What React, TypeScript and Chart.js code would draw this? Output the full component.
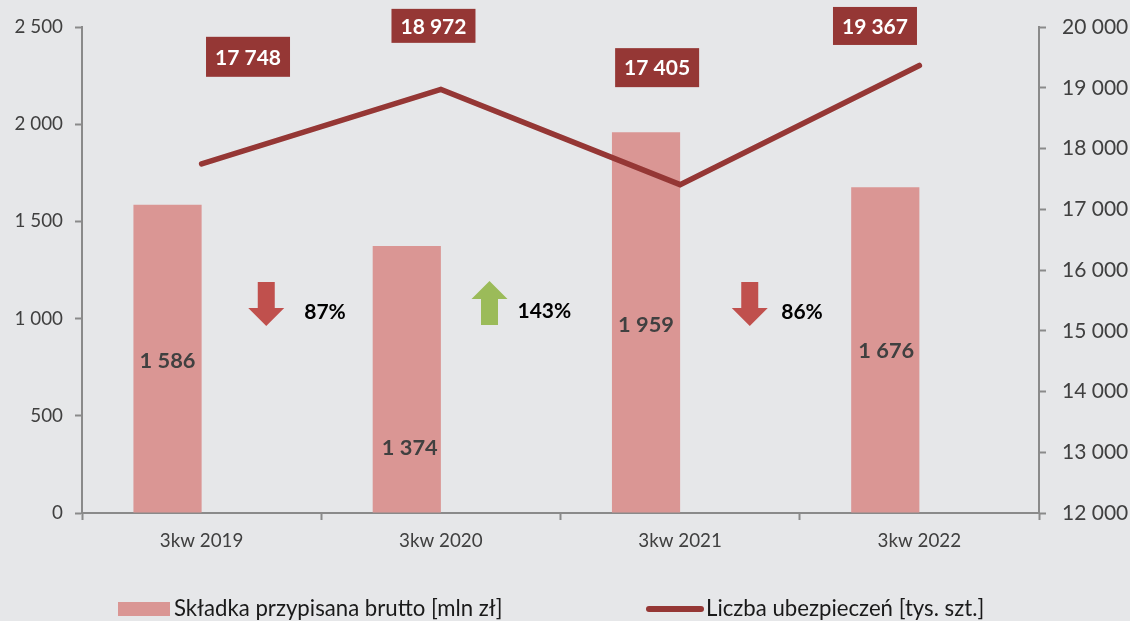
import React, { useEffect, useRef } from "react";
import { Chart, registerables } from "chart.js";

Chart.register(...registerables);

const categories = ["3kw 2019", "3kw 2020", "3kw 2021", "3kw 2022"];
const premiums = [1586, 1374, 1959, 1676];
const policies = [17748, 18972, 17405, 19367];
const emptySeries = [null, null, null, null];
const changeLabels = ["87%", "143%", "86%"];
const changeDirections = ["down", "up", "down"];

const premiumLabel = "Składka przypisana brutto [mln zł]";
const policyLabel = "Liczba ubezpieczeń [tys. szt.]";

const FONT = "Lato, 'Open Sans', sans-serif";
const BG = "#e6e7e9";
const BAR = "#da9694";
const LINE = "#953735";
const AXIS = "#8a8a8a";
const TEXT = "#404040";

const fmt = (v: number) => String(v).replace(/\B(?=(\d{3})+(?!\d))/g, " ");

// offsets of the callouts, relative to the mark they describe
const premiumLabelOffsets = [2, 69, 2, 1];
const premiumLabelShifts = [0, 3, 0, 1];
const policyBoxOffsets = [[46.4, -107], [-7.4, -63.6], [-23, -117], [-44.4, -39.5]];
const policyBoxHeights = [40, 34, 39, 38];
const changeOffsets = [[-55, 0], [-71, -1], [-50, 0]];
const changeTextOffsets = [38, 28, 31.5];

const annotations = {
  id: "annotations",
  afterDatasetsDraw(chart: any) {
    const { ctx } = chart;
    const x = chart.scales.x;
    const y = chart.scales.y;
    const y2 = chart.scales.y2;
    ctx.save();
    ctx.textAlign = "center";
    ctx.textBaseline = "middle";

    // bar values
    const barMeta = chart.getDatasetMeta(1);
    ctx.font = `bold 21.8px ${FONT}`;
    ctx.fillStyle = TEXT;
    premiums.forEach((v, i) => {
      const cy = (y.getPixelForValue(v) + y.getPixelForValue(0)) / 2;
      ctx.fillText(fmt(v), barMeta.data[i].x + premiumLabelShifts[i], cy + premiumLabelOffsets[i]);
    });

    // line value boxes
    policies.forEach((v, i) => {
      const cx = x.getPixelForValue(i) + policyBoxOffsets[i][0];
      const cy = y2.getPixelForValue(v) + policyBoxOffsets[i][1];
      const h = policyBoxHeights[i];
      ctx.fillStyle = LINE;
      ctx.fillRect(cx - 42, cy - h / 2, 84, h);
      ctx.fillStyle = "#ffffff";
      ctx.font = `bold 21px ${FONT}`;
      ctx.fillText(fmt(v), cx, cy + 1);
    });

    // change arrows
    changeLabels.forEach((label, i) => {
      const boundary = (x.getPixelForValue(i) + x.getPixelForValue(i + 1)) / 2;
      const cx = boundary + changeOffsets[i][0];
      const cy = (y.top + y.bottom) / 2 + 34 + changeOffsets[i][1];
      const up = changeDirections[i] === "up";
      const half = 22;
      const head = 18;
      const tip = up ? cy - half : cy + half;
      const tail = up ? cy + half : cy - half;
      const neck = up ? tip + head : tip - head;
      const sw = 8.5;
      const hw = 18;
      ctx.fillStyle = up ? "#9bbb59" : "#c0504d";
      ctx.beginPath();
      ctx.moveTo(cx, tip);
      ctx.lineTo(cx + hw, neck);
      ctx.lineTo(cx + sw, neck);
      ctx.lineTo(cx + sw, tail);
      ctx.lineTo(cx - sw, tail);
      ctx.lineTo(cx - sw, neck);
      ctx.lineTo(cx - hw, neck);
      ctx.closePath();
      ctx.fill();
      ctx.fillStyle = "#000000";
      ctx.font = `bold 21px ${FONT}`;
      ctx.textAlign = "left";
      ctx.fillText(label, cx + changeTextOffsets[i], cy + 8);
      ctx.textAlign = "center";
    });

    // legend
    const ly = 609;
    ctx.textAlign = "left";
    ctx.font = `22.2px ${FONT}`;
    ctx.fillStyle = BAR;
    ctx.fillRect(118, ly - 7, 52, 14);
    ctx.fillStyle = "#1a1a1a";
    ctx.fillText(premiumLabel, 174, ly);
    ctx.strokeStyle = LINE;
    ctx.lineWidth = 6;
    ctx.lineCap = "round";
    ctx.beginPath();
    ctx.moveTo(649, ly);
    ctx.lineTo(701, ly);
    ctx.stroke();
    ctx.fillStyle = "#1a1a1a";
    ctx.fillText(policyLabel, 706, ly);
    ctx.restore();
  },
};

const fitVertical = (width: number) => (s: any) => {
  s.width = width;
  s.paddingTop = 0;
  s.paddingBottom = 0;
};

export default function App() {
  const ref = useRef<HTMLCanvasElement>(null);
  useEffect(() => {
    document.body.style.margin = "0";
    document.body.style.background = BG;
    const chart = new Chart(ref.current!, {
      type: "bar",
      plugins: [annotations],
      data: {
        labels: categories,
        datasets: [
          {
            type: "line",
            label: policyLabel,
            data: policies,
            yAxisID: "y2",
            borderColor: LINE,
            borderWidth: 5.5,
            borderCapStyle: "round",
            borderJoinStyle: "miter",
            pointRadius: 0,
            tension: 0,
            order: 0,
          },
          {
            type: "bar",
            label: premiumLabel,
            data: premiums,
            yAxisID: "y",
            backgroundColor: BAR,
            order: 1,
          },
          {
            type: "bar",
            label: "",
            data: emptySeries,
            yAxisID: "y",
            backgroundColor: "transparent",
            order: 2,
          },
        ] as any,
      },
      options: {
        responsive: false,
        animation: false,
        layout: { padding: { top: 27 } },
        datasets: { bar: { categoryPercentage: 0.57, barPercentage: 1 } },
        plugins: { legend: { display: false }, tooltip: { enabled: false } },
        scales: {
          x: {
            offset: true,
            grid: {
              offset: true,
              drawOnChartArea: false,
              drawTicks: true,
              tickLength: 7,
              tickWidth: 2,
              tickColor: AXIS,
            },
            border: { color: AXIS, width: 2 },
            ticks: { color: TEXT, font: { family: FONT, size: 18.8 }, padding: 10, maxRotation: 0 },
            afterFit(s: any) { s.height = 108; s.paddingLeft = 0; s.paddingRight = 0; },
          },
          y: {
            position: "left",
            min: 0,
            max: 2500,
            grid: { drawOnChartArea: false, tickLength: 7, tickWidth: 2, tickColor: AXIS },
            border: { color: AXIS, width: 2 },
            ticks: {
              stepSize: 500,
              color: TEXT,
              font: { family: FONT, size: 18.8 },
              padding: 12,
              callback: (v: any) => fmt(Number(v)),
            },
            afterFit: fitVertical(82),
          },
          y2: {
            position: "right",
            min: 12000,
            max: 20000,
            grid: { drawOnChartArea: false, tickLength: 7, tickWidth: 2, tickColor: AXIS },
            border: { color: AXIS, width: 2 },
            ticks: {
              stepSize: 1000,
              color: TEXT,
              font: { family: FONT, size: 21 },
              padding: 16,
              callback: (v: any) => fmt(Number(v)),
            },
            afterFit: fitVertical(91),
          },
        },
      } as any,
    });
    return () => chart.destroy();
  }, []);
  return (
    <canvas
      ref={ref}
      width={1130}
      height={621}
      style={{ display: "block", position: "absolute", left: 0, top: 0, background: BG }}
    />
  );
}
